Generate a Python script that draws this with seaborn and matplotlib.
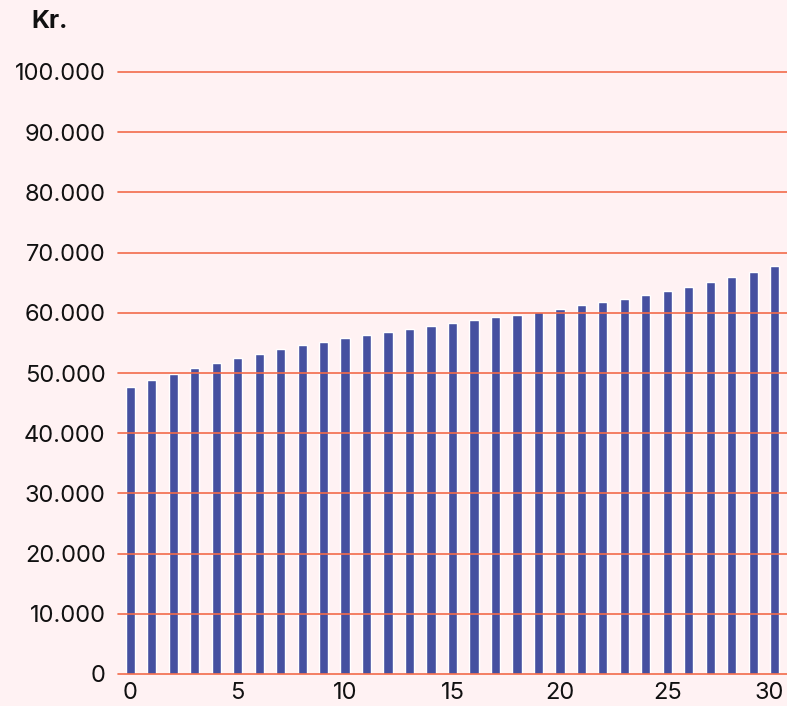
import matplotlib
matplotlib.use("Agg")
import matplotlib.pyplot as plt
import matplotlib.transforms as mtransforms
import seaborn as sns
import pandas as pd
from matplotlib.ticker import FuncFormatter

years = list(range(0, 31))
values = [47700, 48800, 49900, 50800, 51700, 52500, 53200, 54000, 54700, 55100,
          55800, 56300, 56800, 57300, 57800, 58300, 58800, 59300, 59600, 60100,
          60600, 61300, 61800, 62300, 63000, 63600, 64300, 65100, 65900, 66800, 67800]
y_ticks = [0, 10000, 20000, 30000, 40000, 50000, 60000, 70000, 80000, 90000, 100000]
x_ticks = [0, 5, 10, 15, 20, 25, 30]
y_label = "Kr."

bg = "#FFF2F3"
bar_color = "#4550A0"
grid_color = "#F26B4A"

sns.set_theme(style="white")
plt.rcParams['font.family'] = ['Inter', 'DejaVu Sans']

df = pd.DataFrame({"year": years, "value": values})

fig = plt.figure(figsize=(7.87, 7.06), dpi=100, facecolor=bg)
ax = fig.add_axes([118/787, 32/706, 1 - 118/787, (674-72)/706])
ax.set_facecolor(bg)

sns.barplot(data=df, x="year", y="value", color=bar_color, width=0.42,
            saturation=1, ax=ax, zorder=2)

ax.set_ylim(0, 100000)
ax.set_xlim(-0.56, 30.56)
ax.set_yticks(y_ticks)
ax.yaxis.set_major_formatter(FuncFormatter(lambda v, p: f"{int(v):,}".replace(",", ".")))
ax.set_xticks(x_ticks)
ax.set_xticklabels([str(x) for x in x_ticks])
for yv in y_ticks:
    ax.axhline(yv, color=grid_color, lw=1.2, zorder=3, clip_on=False)
for s in ax.spines.values():
    s.set_visible(False)
ax.tick_params(axis="both", length=0, labelsize=17, colors="#111111")
ax.tick_params(axis="y", pad=9)
ax.tick_params(axis="x", pad=6)
ax.set_xlabel("")
ax.set_ylabel("")

# shift the last x tick label left so it fits inside the figure
last = ax.get_xticklabels()[-1]
offset = mtransforms.ScaledTranslation(-6/100, 0, fig.dpi_scale_trans)
last.set_transform(last.get_transform() + offset)

fig.text(31/787, 1 - 21/706, y_label, fontsize=18, fontweight="bold",
         ha="left", va="center", color="#111111")

fig.savefig("out.png", dpi=100, facecolor=bg)
